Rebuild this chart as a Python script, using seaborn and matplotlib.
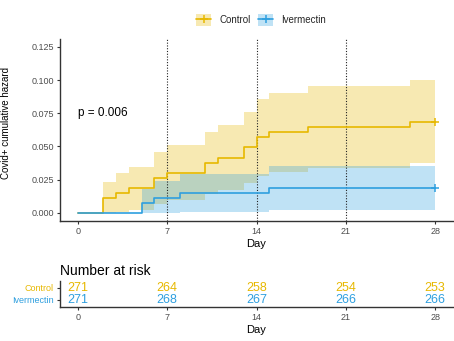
import matplotlib
matplotlib.use("Agg")
import matplotlib.pyplot as plt
from matplotlib.patches import Patch
from matplotlib.lines import Line2D
from matplotlib.legend_handler import HandlerTuple
import seaborn as sns
import pandas as pd

# Cumulative hazard (step values) and 95% confidence bands
days_ctrl = [0, 2, 3, 4, 6, 7, 10, 11, 13, 14, 15, 18, 26, 28]
haz_ctrl = [0, 0.0111, 0.0149, 0.0186, 0.0262, 0.0300, 0.0376, 0.0414,
            0.0492, 0.0568, 0.0608, 0.0648, 0.0688, 0.0688]
upper_ctrl = [0, 0.0235, 0.0296, 0.0347, 0.0456, 0.0507, 0.0608, 0.0658,
              0.0758, 0.0857, 0.0905, 0.0955, 0.1004, 0.1004]
lower_ctrl = [0, 0.0, 0.0004, 0.0023, 0.0068, 0.0093, 0.0144, 0.0169,
              0.0225, 0.0280, 0.0310, 0.0341, 0.0372, 0.0372]

days_iver = [0, 5, 6, 8, 15, 28]
haz_iver = [0, 0.0074, 0.0111, 0.0149, 0.0187, 0.0187]
upper_iver = [0, 0.0177, 0.0236, 0.0294, 0.0349, 0.0349]
lower_iver = [0, 0.0, 0.0, 0.0004, 0.0024, 0.0024]

# Number at risk table
risk_days = [0, 7, 14, 21, 28]
risk_ctrl = [271, 264, 258, 254, 253]
risk_iver = [271, 268, 267, 266, 266]

groups = ["Control", "Ivermectin"]
palette = {"Control": "#E7B800", "Ivermectin": "#2E9FDF"}
p_label = "p = 0.006"
landmarks = [7, 14, 21]

sns.set_theme(style="white")
plt.rcParams["font.family"] = ["Liberation Sans", "DejaVu Sans"]

fig = plt.figure(figsize=(4.54, 3.41), dpi=100)
ax = fig.add_axes([0.1322, 0.3519, 0.8656, 0.5346])
axr = fig.add_axes([0.1322, 0.1006, 0.8656, 0.0754])

curves = pd.concat([
    pd.DataFrame({"day": days_ctrl, "haz": haz_ctrl, "group": "Control"}),
    pd.DataFrame({"day": days_iver, "haz": haz_iver, "group": "Ivermectin"}),
])

bands = {
    "Control": (days_ctrl, lower_ctrl, upper_ctrl),
    "Ivermectin": (days_iver, lower_iver, upper_iver),
}
for g in groups:
    d, lo, hi = bands[g]
    ax.fill_between(d, lo, hi, step="post", color=palette[g], alpha=0.3,
                    linewidth=0, zorder=1)

sns.lineplot(data=curves, x="day", y="haz", hue="group", palette=palette,
             drawstyle="steps-post", estimator=None, linewidth=1.2,
             legend=False, ax=ax, zorder=3)

# censoring marks at end of follow-up
for g, d, h in [("Control", days_ctrl, haz_ctrl), ("Ivermectin", days_iver, haz_iver)]:
    ax.plot(d[-1], h[-1], marker="+", color=palette[g], markersize=6,
            markeredgewidth=1.1, zorder=4)

for x in landmarks:
    ax.axvline(x, color="#222222", linestyle=(0, (1, 1.5)), linewidth=0.8, zorder=2)

ax.text(0, 0.075, p_label, ha="left", va="center", fontsize=8.5, color="black")

ax.set_xlim(-1.4, 29.4)
ax.set_ylim(-0.00625, 0.13125)
ax.set_xticks(risk_days)
ax.set_yticks([0, 0.025, 0.05, 0.075, 0.1, 0.125])
ax.set_yticklabels([f"{v:.3f}" for v in [0, 0.025, 0.05, 0.075, 0.1, 0.125]])
ax.set_xlabel("Day", fontsize=8, color="black", labelpad=2)
ax.set_ylabel("Covid+ cumulative hazard", fontsize=7, color="black")
ax.yaxis.set_label_coords(-0.125, 0.54)

for a in (ax, axr):
    for s in ("top", "right"):
        a.spines[s].set_visible(False)
    for s in ("left", "bottom"):
        a.spines[s].set_color("#333333")
        a.spines[s].set_linewidth(1.0)
    a.tick_params(axis="both", which="both", direction="out", length=2.5,
                  width=0.8, color="#333333", labelsize=6.5,
                  labelcolor="#4D4D4D", pad=2, bottom=True, left=True)

# legend at top: shaded key with the line and censor mark drawn over it
handles = [(Patch(facecolor=palette[g], alpha=0.3, edgecolor="none"),
            Line2D([], [], color=palette[g], marker="+", markersize=6,
                   linewidth=1.2, markeredgewidth=1.1)) for g in groups]
fig.legend(handles, groups, loc="center", bbox_to_anchor=(0.575, 0.941),
           ncol=2, frameon=False, fontsize=7, handlelength=1.55,
           handleheight=1.6, handletextpad=0.8, columnspacing=0.8,
           handler_map={tuple: HandlerTuple(ndivide=1, pad=0)})

# risk table
for v, n in zip(risk_days, risk_ctrl):
    axr.text(v, 2, str(n), ha="center", va="center", fontsize=9,
             color=palette["Control"])
for v, n in zip(risk_days, risk_iver):
    axr.text(v, 1, str(n), ha="center", va="center", fontsize=9,
             color=palette["Ivermectin"])
axr.set_xlim(-1.4, 29.4)
axr.set_ylim(0.4, 2.6)
axr.set_xticks(risk_days)
axr.set_yticks([1, 2])
axr.set_yticklabels(["Ivermectin", "Control"])
for lbl, g in zip(axr.get_yticklabels(), ["Ivermectin", "Control"]):
    lbl.set_color(palette[g])
axr.set_xlabel("Day", fontsize=8, color="black", labelpad=2)
axr.set_title("Number at risk", loc="left", fontsize=10, color="black", pad=4)

fig.savefig("out.png", dpi=100)
